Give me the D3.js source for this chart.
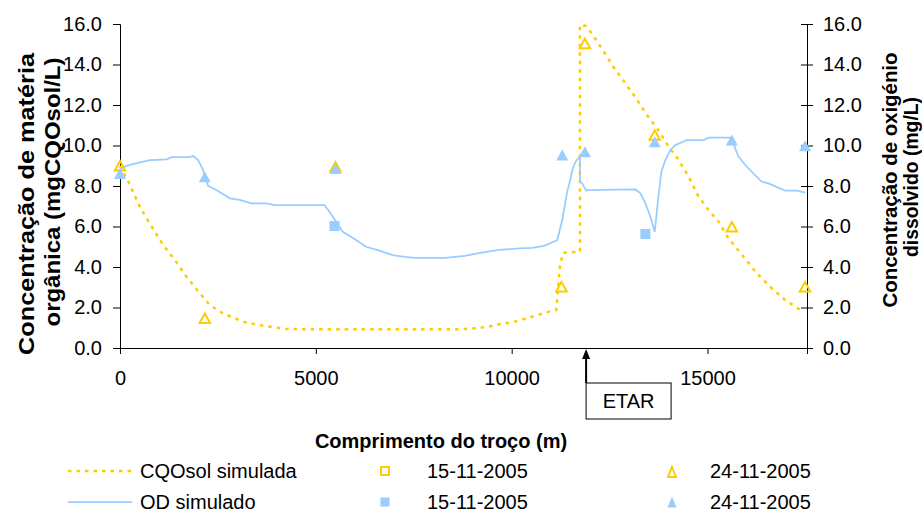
<!DOCTYPE html>
<html>
<head>
<meta charset="utf-8">
<script src="https://cdn.jsdelivr.net/npm/d3@7"></script>
<style>
  body { margin: 0; background: #fff; }
  svg { display: block; font-family: "Liberation Sans", Arial, sans-serif; }
</style>
</head>
<body>
<div id="chart"></div>
<script>
// Data
// CQOsol simulada (left axis)
const cqoX = [0, 255, 509, 807, 1103, 1400, 1698, 2038, 2292, 2632, 3140, 3650, 4245, 5000, 8500, 9000, 9400, 9680, 10020, 10530, 11037, 11140, 11180, 11230, 11310, 11742, 11742, 11894, 12056, 12353, 12651, 12820, 13160, 13457, 13712, 14008, 14263, 14518, 14773, 15027, 15282, 15537, 15919, 16258, 16640, 16980, 17448];
const cqoY = [9.0, 8.05, 6.96, 6.0, 5.09, 4.35, 3.52, 2.7, 2.12, 1.71, 1.3, 1.1, 0.94, 0.92, 0.92, 0.96, 1.05, 1.17, 1.27, 1.55, 1.84, 1.88, 2.9, 4.0, 4.7, 4.75, 15.95, 15.9, 15.5, 14.63, 13.73, 13.3, 12.37, 11.5, 10.85, 9.94, 9.28, 8.46, 7.47, 6.81, 6.24, 5.42, 4.51, 3.69, 2.95, 2.37, 1.79];

// OD simulado (right axis)
const odX = [0, 255, 509, 764, 1189, 1316, 1741, 1868, 1995, 2122, 2250, 2461, 2802, 3056, 3354, 3736, 3948, 5221, 5349, 5518, 5688, 6028, 6283, 6622, 6961, 7132, 7500, 8300, 8800, 9200, 9680, 10190, 10530, 10826, 11164, 11291, 11418, 11503, 11546, 11631, 11742, 11742, 11801, 11844, 11903, 11920, 13160, 13287, 13414, 13542, 13652, 13737, 13822, 13924, 14051, 14178, 14475, 14900, 15027, 15621, 15706, 15791, 16003, 16385, 16555, 16980, 17278, 17490];
const odY = [8.87, 9.04, 9.17, 9.28, 9.32, 9.42, 9.42, 9.48, 9.28, 8.79, 8.0, 7.8, 7.39, 7.31, 7.14, 7.14, 7.06, 7.06, 6.73, 6.24, 5.74, 5.33, 5.0, 4.81, 4.59, 4.54, 4.45, 4.45, 4.55, 4.7, 4.84, 4.92, 4.95, 5.04, 5.33, 6.32, 7.72, 8.37, 8.79, 9.2, 9.45, 8.21, 8.13, 7.97, 7.77, 7.8, 7.83, 7.64, 7.14, 6.48, 5.74, 7.31, 8.71, 9.28, 9.78, 10.02, 10.27, 10.27, 10.39, 10.39, 9.86, 9.45, 8.95, 8.21, 8.13, 7.77, 7.77, 7.67];

// Measured points
const cqo1511X = [];
const cqo1511Y = [];
const cqo2411X = [0, 2165, 5500, 11272, 11870, 13652, 15621, 17490];
const cqo2411Y = [9.0, 1.47, 8.95, 3.03, 15.04, 10.52, 5.99, 3.03];
const od1511X = [5476, 13414];
const od1511Y = [6.02, 5.63];
const od2411X = [0, 2165, 5500, 11291, 11870, 13652, 15621, 17490];
const od2411Y = [8.62, 8.46, 8.87, 9.53, 9.69, 10.19, 10.27, 9.99];

// Ticks / labels
const xTicks = [0, 5000, 10000, 15000];
const yTicks = [0, 2, 4, 6, 8, 10, 12, 14, 16];
const etarPos = 11900;

const yellow = "#FFCC00";
const blue = "#99CCFF";

// Dimensions
const dimensions = {
  width: 922,
  height: 513,
  margin: { top: 24, right: 115, bottom: 165, left: 120 }
};

const svg = d3
  .select("#chart")
  .append("svg")
  .attr("width", dimensions.width)
  .attr("height", dimensions.height);

// Scales
const xScale = d3
  .scaleLinear()
  .domain([0, 17540])
  .range([dimensions.margin.left, dimensions.width - dimensions.margin.right]);

const yLeft = d3
  .scaleLinear()
  .domain([0, 16])
  .range([dimensions.height - dimensions.margin.bottom, dimensions.margin.top]);

const yRight = d3
  .scaleLinear()
  .domain([0, 16])
  .range([dimensions.height - dimensions.margin.bottom, dimensions.margin.top]);

const x0 = xScale.range()[0];
const x1 = xScale.range()[1];
const yBottom = yLeft.range()[0];

// Axes
const xAxis = svg
  .append("g")
  .attr("transform", `translate(0, ${yBottom})`)
  .call(d3.axisBottom(xScale).tickValues(xTicks).tickFormat(d3.format("d")).tickSizeOuter(0).tickSize(6).tickPadding(17));

const leftAxis = svg
  .append("g")
  .attr("transform", `translate(${x0}, 0)`)
  .call(d3.axisLeft(yLeft).tickValues(yTicks).tickFormat(d3.format(".1f")).tickSizeOuter(0).tickSize(7).tickPadding(11));

const rightAxis = svg
  .append("g")
  .attr("transform", `translate(${x1}, 0)`)
  .call(d3.axisRight(yRight).tickValues(yTicks).tickFormat(d3.format(".1f")).tickSizeOuter(0).tickSize(6).tickPadding(10));
rightAxis.selectAll(".tick line").attr("x1", -6);

[xAxis, leftAxis, rightAxis].forEach((g) => {
  g.selectAll("text").style("font-size", "20px").attr("fill", "#000");
  g.selectAll("line").attr("stroke", "#000");
  g.select(".domain").attr("stroke", "#000");
});

// Lines
const cqoLine = d3
  .line()
  .x((i) => xScale(cqoX[i]))
  .y((i) => yLeft(cqoY[i]));

const odLine = d3
  .line()
  .x((i) => xScale(odX[i]))
  .y((i) => yRight(odY[i]));

svg
  .append("path")
  .datum(d3.range(cqoX.length))
  .attr("d", cqoLine)
  .attr("fill", "none")
  .attr("stroke", yellow)
  .attr("stroke-width", 2.5)
  .attr("stroke-dasharray", "3.5,5");

svg
  .append("path")
  .datum(d3.range(odX.length))
  .attr("d", odLine)
  .attr("fill", "none")
  .attr("stroke", blue)
  .attr("stroke-width", 1.75);

// Marker shapes
const tri = (w, h) => `M0,${-h / 2}L${w / 2},${h / 2}L${-w / 2},${h / 2}Z`;

// CQO 15-11 hollow squares
svg
  .append("g")
  .selectAll("rect")
  .data(d3.range(cqo1511X.length))
  .join("rect")
  .attr("x", (i) => xScale(cqo1511X[i]) - 4.5)
  .attr("y", (i) => yLeft(cqo1511Y[i]) - 4.5)
  .attr("width", 9)
  .attr("height", 9)
  .attr("fill", "none")
  .attr("stroke", yellow)
  .attr("stroke-width", 2);

// CQO 24-11 hollow triangles
svg
  .append("g")
  .selectAll("path")
  .data(d3.range(cqo2411X.length))
  .join("path")
  .attr("transform", (i) => `translate(${xScale(cqo2411X[i])}, ${yLeft(cqo2411Y[i])})`)
  .attr("d", tri(10.5, 9.5))
  .attr("fill", "none")
  .attr("stroke", yellow)
  .attr("stroke-width", 2);

// OD 15-11 filled squares
svg
  .append("g")
  .selectAll("rect")
  .data(d3.range(od1511X.length))
  .join("rect")
  .attr("x", (i) => xScale(od1511X[i]) - 5)
  .attr("y", (i) => yRight(od1511Y[i]) - 5)
  .attr("width", 10)
  .attr("height", 10)
  .attr("fill", blue);

// OD 24-11 filled triangles
svg
  .append("g")
  .selectAll("path")
  .data(d3.range(od2411X.length))
  .join("path")
  .attr("transform", (i) => `translate(${xScale(od2411X[i])}, ${yRight(od2411Y[i])})`)
  .attr("d", tri(12, 11))
  .attr("fill", blue);

// ETAR annotation
const ex = xScale(etarPos);
svg
  .append("line")
  .attr("x1", ex)
  .attr("x2", ex)
  .attr("y1", yBottom + 35)
  .attr("y2", yBottom + 9)
  .attr("stroke", "#000")
  .attr("stroke-width", 2);
svg
  .append("path")
  .attr("d", `M${ex},${yBottom + 1}L${ex + 4},${yBottom + 11}L${ex - 4},${yBottom + 11}Z`)
  .attr("fill", "#000");
svg
  .append("rect")
  .attr("x", ex)
  .attr("y", yBottom + 35)
  .attr("width", 85)
  .attr("height", 36)
  .attr("fill", "#fff")
  .attr("stroke", "#000")
  .attr("stroke-width", 1);
svg
  .append("text")
  .attr("x", ex + 42.5)
  .attr("y", yBottom + 60)
  .attr("text-anchor", "middle")
  .style("font-size", "20px")
  .text("ETAR");

// Axis titles
svg
  .append("text")
  .attr("x", 441)
  .attr("y", 448)
  .attr("text-anchor", "middle")
  .style("font-size", "20px")
  .style("font-weight", "bold")
  .text("Comprimento do troço (m)");

const leftTitle = [
  { text: "Concentração de matéria", x: 34, y: 204, len: 302, size: 22 },
  { text: "orgânica (mgCQOsol/L)", x: 60, y: 192, len: 269, size: 22 }
];
const rightTitle = [
  { text: "Concentração de oxigénio", x: 897, y: 180, len: 255, size: 20 },
  { text: "dissolvido (mg/L)", x: 918, y: 177, len: 160, size: 20 }
];

svg
  .append("g")
  .selectAll("text")
  .data(leftTitle.concat(rightTitle))
  .join("text")
  .attr("transform", (d) => `translate(${d.x}, ${d.y}) rotate(-90)`)
  .attr("text-anchor", "middle")
  .attr("textLength", (d) => d.len)
  .attr("lengthAdjust", "spacingAndGlyphs")
  .style("font-size", (d) => d.size + "px")
  .style("font-weight", "bold")
  .text((d) => d.text);

// Legend
const legend = svg.append("g").style("font-size", "20px");
const row1 = 471;
const row2 = 502;

legend.append("line")
  .attr("x1", 68).attr("x2", 132).attr("y1", row1).attr("y2", row1)
  .attr("stroke", yellow).attr("stroke-width", 2.5).attr("stroke-dasharray", "3.5,5");
legend.append("line")
  .attr("x1", 68).attr("x2", 132).attr("y1", row2).attr("y2", row2)
  .attr("stroke", blue).attr("stroke-width", 1.75);

legend.append("rect")
  .attr("x", 381).attr("y", row1 - 4).attr("width", 8).attr("height", 8)
  .attr("fill", "none").attr("stroke", yellow).attr("stroke-width", 2);
legend.append("rect")
  .attr("x", 380.5).attr("y", row2 - 4.5).attr("width", 9).attr("height", 9)
  .attr("fill", blue);

legend.append("path")
  .attr("transform", `translate(672, ${row1 + 1})`)
  .attr("d", tri(8, 10))
  .attr("fill", "none").attr("stroke", yellow).attr("stroke-width", 2);
legend.append("path")
  .attr("transform", `translate(672, ${row2})`)
  .attr("d", tri(9, 11))
  .attr("fill", blue);

const legendLabels = [
  { text: "CQOsol simulada", x: 140, y: row1 },
  { text: "15-11-2005", x: 427, y: row1 },
  { text: "24-11-2005", x: 710, y: row1 },
  { text: "OD simulado", x: 140, y: row2 },
  { text: "15-11-2005", x: 427, y: row2 },
  { text: "24-11-2005", x: 710, y: row2 }
];
legend
  .selectAll("text")
  .data(legendLabels)
  .join("text")
  .attr("x", (d) => d.x)
  .attr("y", (d) => d.y + 7)
  .text((d) => d.text);
</script>
</body>
</html>
